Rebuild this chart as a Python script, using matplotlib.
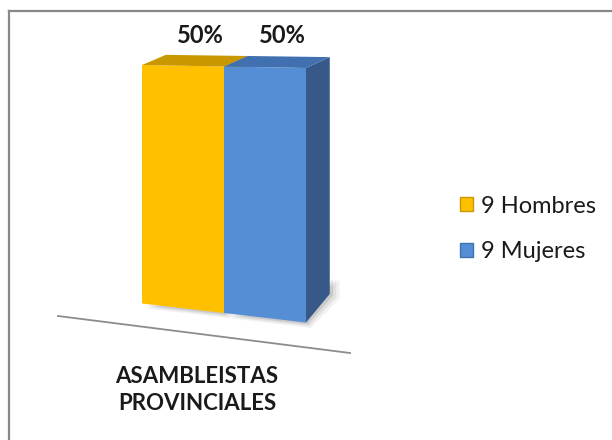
import numpy as np
import matplotlib.pyplot as plt
from matplotlib.patches import Polygon, Patch
from matplotlib.transforms import Transform
from matplotlib.lines import Line2D

# datos
categorias = ['9 Hombres', '9 Mujeres']
porcentajes = [50, 50]
etiquetas = ['50%', '50%']
grupo = 'ASAMBLEISTAS\nPROVINCIALES'

# colores: frente, tapa y lado de cada barra
frente = ['#FFC000', '#558ED5']
tapa = ['#C99800', '#4070B0']
lado = ['#B88A00', '#36598A']

plt.rcParams['font.family'] = ['Lato', 'DejaVu Sans']

W, H = 612, 440
fig = plt.figure(figsize=(W / 100, H / 100), dpi=100)

# ejes de las barras (pixeles aproximados del original)
ax = fig.add_axes([142 / W, 1 - 313 / H, 164 / W, 246.5 / H])
ax.set_xlim(-0.5, 1.5)
ax.set_ylim(0, 50)
ax.axis('off')


# perspectiva: el piso baja mucho hacia la derecha, la parte alta casi nada
class Perspectiva(Transform):
    input_dims = output_dims = 2
    kb, kt, ymax = 1.93, 0.3, 50.0

    def transform_non_affine(self, values):
        xy = np.asarray(values, dtype=float)
        xx, yy = xy[:, 0], xy[:, 1]
        s = self.kb + (self.kt - self.kb) * yy / self.ymax
        return np.column_stack([xx, yy - s * (xx - 0.5)])


persp = Perspectiva() + ax.transData

# profundidad 3D (unidades de datos)
px, pt, pb = 0.29, 2.2, 6.1

x = list(range(len(porcentajes)))
barras = ax.bar(x, porcentajes, width=1, color=frente, linewidth=0, zorder=3)

for i, (b, v) in enumerate(zip(barras, porcentajes)):
    b.set_transform(persp)
    b.set_clip_on(False)
    x0 = b.get_x()
    x1 = x0 + b.get_width()
    # sombra suave
    for s, a in [(0.12, 0.05), (0.08, 0.07), (0.04, 0.10)]:
        ax.add_patch(Polygon([(x0 + 0.05, -s * 8), (x1 + s * 0.5, -s * 8), (x1 + px + s, pb - s * 6),
                              (x1 + px + s, pb + 3), (x1, 3)],
                             closed=True, color='black', alpha=a, lw=0, transform=persp,
                             zorder=1, clip_on=False))
    ax.add_patch(Polygon([(x1, 0), (x1, v), (x1 + px, v + pt), (x1 + px, pb)],
                         closed=True, color=lado[i], lw=0, transform=persp, zorder=2, clip_on=False))
    ax.add_patch(Polygon([(x0, v), (x1, v), (x1 + px, v + pt), (x0 + px, v + pt)],
                         closed=True, color=tapa[i], lw=0, transform=persp, zorder=3, clip_on=False))
    ax.text(x[i] + 0.21, v + 6.3, etiquetas[i], ha='center', va='center',
            fontsize=17, fontweight='bold', color='#1a1a1a')

# linea del piso
fig.add_artist(Line2D([58 / W, 350 / W], [1 - 316 / H, 1 - 353 / H], color='#8c8c8c', lw=1.3))

# etiqueta de la categoria
fig.text(197 / W, 1 - 390 / H, grupo, ha='center', va='center', fontsize=16,
         fontweight='bold', color='#1a1a1a', linespacing=1.4)

# leyenda
handles = [Patch(facecolor=frente[i], edgecolor=tapa[i], lw=1.0) for i in range(len(categorias))]
fig.legend(handles, categorias, loc='center left', bbox_to_anchor=(460 / W, 1 - 229 / H),
           frameon=False, fontsize=17, handlelength=0.55, handleheight=0.55,
           handletextpad=0.35, labelspacing=1.05, borderpad=0, borderaxespad=0,
           labelcolor='#1a1a1a')

# borde del recuadro (solo arriba e izquierda visibles)
fig.add_artist(Line2D([9 / W, 1], [1 - 11 / H, 1 - 11 / H], color='#888888', lw=1.6))
fig.add_artist(Line2D([9 / W, 9 / W], [0, 1 - 11 / H], color='#888888', lw=1.6))

fig.savefig('out.png', dpi=100)
